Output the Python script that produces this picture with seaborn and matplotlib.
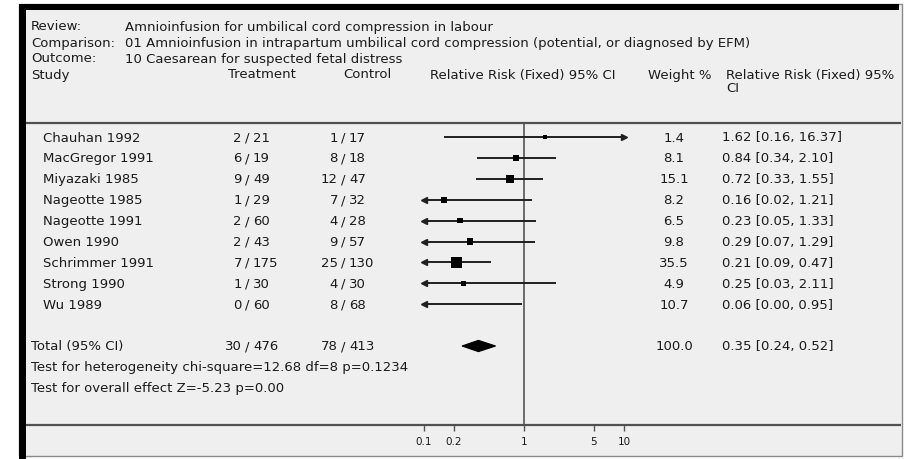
import pandas as pd
import seaborn as sns
import matplotlib.pyplot as plt
from matplotlib.patches import Rectangle, Polygon
from matplotlib.transforms import blended_transform_factory

# Daten
studies = ["Chauhan 1992", "MacGregor 1991", "Miyazaki 1985", "Nageotte 1985",
           "Nageotte 1991", "Owen 1990", "Schrimmer 1991", "Strong 1990", "Wu 1989"]
treat_events = [2, 6, 9, 1, 2, 2, 7, 1, 0]
treat_total = [21, 19, 49, 29, 60, 43, 175, 30, 60]
ctrl_events = [1, 8, 12, 7, 4, 9, 25, 4, 8]
ctrl_total = [17, 18, 47, 32, 28, 57, 130, 30, 68]
weights = [1.4, 8.1, 15.1, 8.2, 6.5, 9.8, 35.5, 4.9, 10.7]
rr = [1.62, 0.84, 0.72, 0.16, 0.23, 0.29, 0.21, 0.25, 0.06]
ci_low = [0.16, 0.34, 0.33, 0.02, 0.05, 0.07, 0.09, 0.03, 0.00]
ci_high = [16.37, 2.10, 1.55, 1.21, 1.33, 1.29, 0.47, 2.11, 0.95]

total_events = [30, 78]
total_n = [476, 413]
total_weight = 100.0
total_rr, total_low, total_high = 0.35, 0.24, 0.52

scale_ticks = [0.1, 0.2, 1, 5, 10]
scale_labels = ["0.1", "0.2", "1", "5", "10"]

review = "Amnioinfusion for umbilical cord compression in labour"
comparison = ("01 Amnioinfusion in intrapartum umbilical cord compression "
              "(potential, or diagnosed by EFM)")
outcome = "10 Caesarean for suspected fetal distress"
heterogeneity = "Test for heterogeneity chi-square=12.68 df=8 p=0.1234"
overall = "Test for overall effect Z=-5.23 p=0.00"

W, H = 906, 460
ROW0, ROWH = 138, 20.9
LO, HI = 0.1, 10

sns.set_theme(style="white")
plt.rcParams["font.family"] = ["DejaVu Sans"]
FS = 9.5
INK = "#1a1a1a"

fig = plt.figure(figsize=(W / 100, H / 100), dpi=100)
fig.patch.set_facecolor("white")

# Hintergrund / Rahmen in Pixelkoordinaten
bg = fig.add_axes([0, 0, 1, 1])
bg.set_xlim(0, W)
bg.set_ylim(H, 0)
bg.axis("off")
bg.add_patch(Rectangle((19, 5), 883, 452, facecolor="#efefef", edgecolor="#8a8a8a", lw=1))
bg.add_patch(Rectangle((19, 5), 7, 455, facecolor="black", edgecolor="none"))
bg.add_patch(Rectangle((19, 5), 880, 6, facecolor="black", edgecolor="none"))
for yy in (124, 426):
    bg.plot([26, 901], [yy, yy], color="#505050", lw=1.6, solid_capstyle="butt")

# Kopfzeilen
for y, lab, txt in [(27, "Review:", review), (43, "Comparison:", comparison),
                    (59, "Outcome:", outcome)]:
    bg.text(31, y, lab, fontsize=FS, color=INK, va="center")
    bg.text(125, y, txt, fontsize=FS, color=INK, va="center")
for x, txt in [(31, "Study"), (228, "Treatment"), (343, "Control"),
               (430, "Relative Risk (Fixed) 95% CI"), (648, "Weight %"),
               (726, "Relative Risk (Fixed) 95%")]:
    bg.text(x, 75, txt, fontsize=FS, color=INK, va="center")
bg.text(726, 88, "CI", fontsize=FS, color=INK, va="center")

# Forest-Plot-Achse
fax = fig.add_axes([424 / W, 1 - 426 / H, (624 - 424) / W, (426 - 124) / H])
fax.set_facecolor("none")
fax.set_xscale("log")
fax.set_xlim(LO, HI)
fax.set_ylim((426 - ROW0) / ROWH, (124 - ROW0) / ROWH)
for s in fax.spines.values():
    s.set_visible(False)
fax.set_yticks([])
fax.set_xticks(scale_ticks)
fax.set_xticklabels(scale_labels)
fax.minorticks_off()
fax.tick_params(axis="x", bottom=True, direction="out", length=4, width=1,
                color="#555555", labelsize=7.5, labelcolor=INK, pad=4)
fax.axvline(1, color="#555555", lw=1.2, zorder=1)

df = pd.DataFrame({"study": studies, "row": range(len(studies)), "rr": rr,
                   "low": ci_low, "high": ci_high, "weight": weights})

for _, r in df.iterrows():
    x0, x1 = max(r.low, LO), min(r.high, HI)
    fax.plot([x0, x1], [r.row, r.row], color="#202020", lw=1.4, zorder=2,
             solid_capstyle="butt")
    if r.low < LO:
        fax.plot([LO], [r.row], marker="<", ms=5, color="#202020", clip_on=False, zorder=3)
    if r.high > HI:
        fax.plot([HI], [r.row], marker=">", ms=5, color="#202020", clip_on=False, zorder=3)

shown = df[df.rr >= LO]
sns.scatterplot(data=shown, x="rr", y="row", size="weight", sizes=(5, 65),
                size_norm=(0, 36), marker="s", color="black", linewidth=0,
                legend=False, ax=fax, zorder=4)
fax.set_xlabel("")
fax.set_ylabel("")

total_row = len(studies) + 1
h = 0.27
fax.add_patch(Polygon([(total_low, total_row), (total_rr, total_row - h),
                       (total_high, total_row), (total_rr, total_row + h)],
                      closed=True, facecolor="black", edgecolor="black", lw=0.8, zorder=4))

# Tabellenspalten: x in Pixeln, y in Zeilen
tr = blended_transform_factory(bg.transData, fax.transData)


def counts(row, n, N, slash_x):
    bg.text(slash_x - 5, row, f"{n}", transform=tr, fontsize=FS, color=INK,
            ha="right", va="center")
    bg.text(slash_x, row, "/", transform=tr, fontsize=FS, color=INK,
            ha="center", va="center")
    bg.text(slash_x + 6, row, f"{N}", transform=tr, fontsize=FS, color=INK,
            ha="left", va="center")


for i in range(len(studies)):
    bg.text(43, i, studies[i], transform=tr, fontsize=FS, color=INK, va="center")
    counts(i, treat_events[i], treat_total[i], 247)
    counts(i, ctrl_events[i], ctrl_total[i], 343)
    bg.text(674, i, f"{weights[i]:.1f}", transform=tr, fontsize=FS, color=INK,
            ha="center", va="center")
    bg.text(722, i, f"{rr[i]:.2f} [{ci_low[i]:.2f}, {ci_high[i]:.2f}]", transform=tr,
            fontsize=FS, color=INK, va="center")

bg.text(31, total_row, "Total (95% CI)", transform=tr, fontsize=FS, color=INK, va="center")
counts(total_row, total_events[0], total_n[0], 247)
counts(total_row, total_events[1], total_n[1], 343)
bg.text(674, total_row, f"{total_weight:.1f}", transform=tr, fontsize=FS, color=INK,
        ha="center", va="center")
bg.text(722, total_row, f"{total_rr:.2f} [{total_low:.2f}, {total_high:.2f}]",
        transform=tr, fontsize=FS, color=INK, va="center")
bg.text(31, total_row + 1, heterogeneity, transform=tr, fontsize=FS, color=INK, va="center")
bg.text(31, total_row + 2, overall, transform=tr, fontsize=FS, color=INK, va="center")

fig.savefig("out.png", dpi=100)
